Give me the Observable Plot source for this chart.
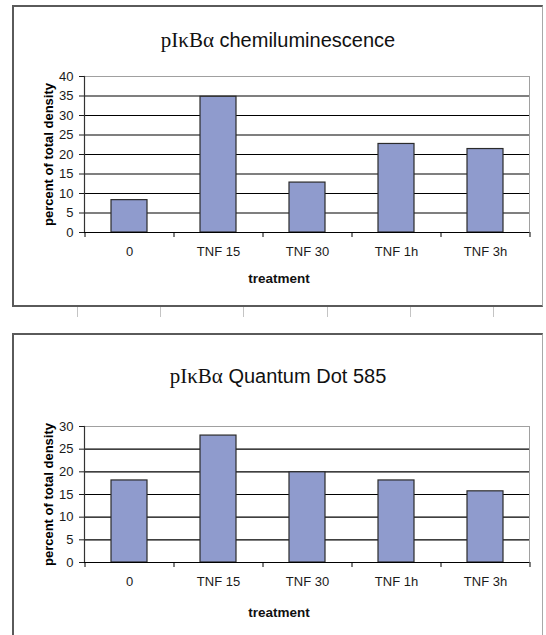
<!DOCTYPE html>
<html><head><meta charset="utf-8">
<script src="https://cdn.jsdelivr.net/npm/d3@7"></script>
<script src="https://cdn.jsdelivr.net/npm/@observablehq/plot@0.6"></script>
<style>
body{margin:0;background:#fff;width:546px;height:635px;overflow:hidden;position:relative;font-family:"Liberation Sans",Arial,sans-serif;}
.panel{position:absolute;left:12px;width:531px;border:2px solid #5a5a5a;border-right:1px solid #a8a8a8;box-sizing:border-box;}
#p1{top:5px;height:302px;}
#p2{top:333px;height:330px;}
.title{position:absolute;left:13px;width:530px;text-align:center;font-size:20px;line-height:24px;color:#111;white-space:nowrap;}
.title .g{font-family:"Liberation Serif","Times New Roman",serif;font-size:21px;}
.chart{position:absolute;left:0;}
.deco{position:absolute;width:1px;height:10px;background:#c4c4c4;top:307px;}
</style></head>
<body>
<div class="panel" id="p1"></div>
<div class="panel" id="p2"></div>
<div class="title" style="top:28px"><span class="g">pIκBα</span> chemiluminescence</div>
<div class="title" style="top:364px"><span class="g">pIκBα</span> Quantum Dot 585</div>
<div class="chart" id="c1" style="top:60px"></div>
<div class="chart" id="c2" style="top:400px"></div>
<script>
const categories = ["0", "TNF 15", "TNF 30", "TNF 1h", "TNF 3h"];
const chemiValues = [8.3, 34.8, 12.8, 22.7, 21.4];
const qdotValues = [18.1, 28.0, 19.9, 18.1, 15.7];
const chemiTicks = [0, 5, 10, 15, 20, 25, 30, 35, 40];
const qdotTicks = [0, 5, 10, 15, 20, 25, 30];
const yLabel = "percent of total density";
const xLabel = "treatment";

function makeChart(values, ticks, height, marginTop, xLabelDy) {
  const data = categories.map((c, i) => ({cat: c, v: values[i]}));
  const yMax = ticks[ticks.length - 1];
  const width = 546, marginBottom = 63, marginLeft = 84, marginRight = 17;
  const plotH = height - marginTop - marginBottom;
  const tickLen = -5 * yMax / plotH;
  const step = (width - marginLeft - marginRight) / categories.length;
  const last = categories[categories.length - 1];
  return Plot.plot({
    width, height, marginTop, marginBottom, marginLeft, marginRight,
    style: {fontFamily: "Liberation Sans, Arial, sans-serif", fontSize: "13px", color: "#1a1a1a", background: "transparent"},
    x: {domain: categories, paddingInner: 0.6, paddingOuter: 0.3, axis: null},
    y: {domain: [0, yMax], axis: null},
    marks: [
      Plot.frame({stroke: "#a0a0a0"}),
      Plot.ruleY(ticks.filter(t => t > 0 && t < yMax), {stroke: "#000", strokeWidth: 1.2}),
      Plot.barY(data, {x: "cat", y: "v", fill: "#8f9bcd", stroke: "#2b2b2b", strokeWidth: 1.2}),
      Plot.frame({anchor: "left", stroke: "#333", strokeWidth: 1.2}),
      Plot.ruleY([0], {stroke: "#000", strokeWidth: 1.2}),
      Plot.axisY({ticks, tickSize: 5, tickPadding: 6, label: null}),
      Plot.ruleX(categories, {x: d => d, dx: -step / 2, y1: 0, y2: tickLen, stroke: "#000"}),
      Plot.ruleX([last], {x: d => d, dx: step / 2, y1: 0, y2: tickLen, stroke: "#000"}),
      Plot.axisX({tickSize: 0, tickPadding: 14, label: null}),
      Plot.text([yLabel], {frameAnchor: "left", rotate: -90, dx: -36, textAnchor: "middle", lineAnchor: "middle", fontWeight: "bold", fontSize: 13, fill: "#000"}),
      Plot.text([xLabel], {frameAnchor: "bottom", dx: -28, dy: xLabelDy, textAnchor: "middle", lineAnchor: "middle", fontWeight: "bold", fontSize: 13.5, fill: "#111"})
    ]
  });
}

document.getElementById("c1").append(makeChart(chemiValues, chemiTicks, 235, 16, 46));
document.getElementById("c2").append(makeChart(qdotValues, qdotTicks, 225, 26, 50));

[77, 160, 243, 327, 410, 493].forEach(x => {
  const d = document.createElement("div");
  d.className = "deco";
  d.style.left = x + "px";
  document.body.append(d);
});
</script>
</body></html>
